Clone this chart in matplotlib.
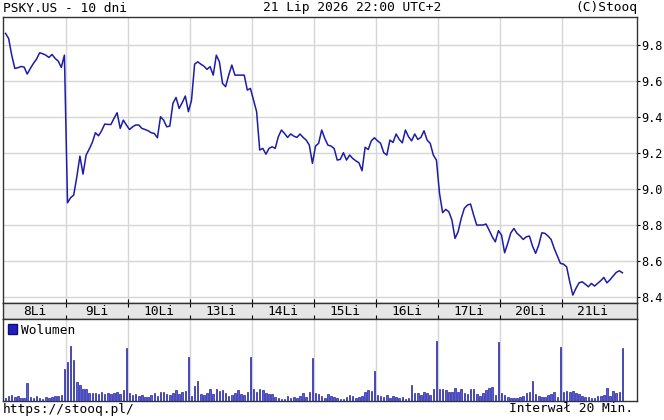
"""Intraday 10-day price chart in the stooq style: price line, date band, volume bars."""

import matplotlib

matplotlib.use("Agg")
import matplotlib.pyplot as plt
import numpy as np
from matplotlib.patches import Patch
from matplotlib.transforms import blended_transform_factory

plt.rcParams["font.family"] = ["DejaVu Sans Mono"]
plt.rcParams["font.size"] = 9.3

# 20-minute bars, 20 per session.
DAY_LABELS = ["8Li", "9Li", "10Li", "13Li", "14Li", "15Li", "16Li", "17Li", "20Li", "21Li"]

price_days = [
    [9.865, 9.837, 9.744, 9.670, 9.674, 9.681, 9.678, 9.639, 9.670, 9.698,
     9.722, 9.757, 9.752, 9.744, 9.731, 9.748, 9.726, 9.711, 9.676, 9.744],
    [8.924, 8.952, 8.967, 9.068, 9.183, 9.083, 9.189, 9.222, 9.259, 9.313,
     9.296, 9.324, 9.361, 9.359, 9.359, 9.393, 9.424, 9.337, 9.383, 9.356],
    [9.331, 9.346, 9.356, 9.356, 9.337, 9.331, 9.324, 9.313, 9.309, 9.285,
     9.402, 9.383, 9.346, 9.350, 9.476, 9.509, 9.448, 9.480, 9.517, 9.430],
    [9.494, 9.694, 9.707, 9.694, 9.683, 9.665, 9.680, 9.633, 9.744, 9.707,
     9.587, 9.569, 9.633, 9.689, 9.633, 9.633, 9.633, 9.633, 9.550, 9.559],
    [9.494, 9.430, 9.217, 9.226, 9.194, 9.226, 9.235, 9.226, 9.291, 9.328,
     9.309, 9.287, 9.306, 9.294, 9.287, 9.306, 9.287, 9.272, 9.244, 9.143],
    [9.239, 9.254, 9.328, 9.281, 9.244, 9.239, 9.226, 9.161, 9.165, 9.202,
     9.161, 9.189, 9.170, 9.157, 9.146, 9.102, 9.232, 9.220, 9.268, 9.285],
    [9.268, 9.254, 9.202, 9.189, 9.272, 9.259, 9.306, 9.276, 9.257, 9.328,
     9.291, 9.268, 9.306, 9.276, 9.287, 9.324, 9.272, 9.254, 9.189, 9.161],
    [8.976, 8.869, 8.887, 8.874, 8.828, 8.726, 8.763, 8.837, 8.893, 8.911,
     8.917, 8.856, 8.800, 8.800, 8.800, 8.806, 8.772, 8.735, 8.707, 8.769],
    [8.744, 8.646, 8.698, 8.757, 8.781, 8.754, 8.739, 8.720, 8.735, 8.739,
     8.683, 8.643, 8.689, 8.757, 8.754, 8.739, 8.720, 8.670, 8.628, 8.587],
    [8.583, 8.568, 8.485, 8.411, 8.448, 8.479, 8.485, 8.472, 8.457, 8.476,
     8.461, 8.476, 8.491, 8.509, 8.479, 8.496, 8.517, 8.537, 8.546, 8.535],
]

# volume, arbitrary units (relative bar heights)
volume_days = [
    [3, 5, 6, 4, 5, 3, 3, 18, 4, 3, 5, 3, 2, 4, 3, 4, 5, 5, 6, 32],
    [39, 55, 41, 19, 16, 12, 12, 8, 8, 8, 7, 9, 7, 8, 7, 8, 9, 7, 11, 53],
    [8, 6, 7, 5, 6, 4, 4, 6, 8, 5, 9, 9, 7, 6, 8, 11, 7, 9, 10, 44],
    [5, 15, 20, 7, 6, 8, 12, 7, 12, 10, 11, 8, 5, 6, 8, 11, 7, 6, 9, 44],
    [12, 9, 12, 11, 8, 7, 7, 4, 3, 2, 2, 5, 3, 4, 3, 5, 8, 4, 9, 43],
    [8, 7, 5, 3, 7, 5, 4, 3, 2, 2, 4, 6, 5, 3, 4, 5, 9, 11, 10, 30],
    [6, 5, 4, 6, 3, 5, 4, 3, 4, 2, 3, 16, 8, 8, 6, 9, 8, 6, 12, 60],
    [12, 12, 11, 9, 9, 13, 9, 12, 8, 7, 12, 12, 7, 5, 8, 11, 13, 14, 6, 59],
    [8, 6, 4, 3, 3, 3, 4, 5, 8, 9, 20, 7, 5, 4, 4, 6, 7, 9, 4, 54],
    [9, 10, 9, 10, 8, 7, 5, 4, 4, 3, 3, 5, 5, 6, 13, 5, 10, 8, 9, 53],
]

PRICE_TICKS = [8.4, 8.6, 8.8, 9.0, 9.2, 9.4, 9.6, 9.8]

LINE_C = "#1c1ca8"
GRID_C = "#d6d6d6"
EDGE_C = "#333333"

price = np.concatenate(price_days)
volume = np.concatenate(volume_days)
x = np.arange(len(price))
counts = [len(d) for d in price_days]
bounds = np.cumsum(counts)[:-1] - 0.5
starts = np.concatenate([[0], np.cumsum(counts)[:-1]])
centers = starts + (np.array(counts) - 1) / 2
xlim = (-0.65, len(price) + 3.7)

W, H = 664, 420
fig = plt.figure(figsize=(W / 100, H / 100), dpi=100)
left, width = 3.5 / W, 633.5 / W
ax = fig.add_axes([left, 117 / H, width, 286 / H])
band = fig.add_axes([left, 101 / H, width, 16 / H], sharex=ax)
axv = fig.add_axes([left, 19 / H, width, 82 / H], sharex=ax)

# price panel
ax.plot(x, price, color=LINE_C, lw=1.1, zorder=3)
ax.set_xlim(*xlim)
ax.set_ylim(8.367, 9.956)
ax.yaxis.tick_right()
ax.set_yticks(PRICE_TICKS)
ax.set_yticklabels([f"{t:.1f}" for t in PRICE_TICKS])
ax.tick_params(axis="y", length=2, width=0.8, pad=0.8, labelsize=8.6, colors="black")
ax.set_xticks(bounds)
ax.tick_params(axis="x", length=0, labelbottom=False)
ax.grid(color=GRID_C, lw=1)

# date band
band.set_facecolor("#e6e6e6")
band.set_yticks([])
band.tick_params(axis="x", direction="inout", length=6, width=0.8, top=True, bottom=True,
                 labelbottom=False)
tr = blended_transform_factory(band.transData, band.transAxes)
for c, lab in zip(centers, DAY_LABELS):
    band.text(c, 0.45, lab, transform=tr, ha="center", va="center")

# volume panel
axv.bar(x, volume, width=0.5, color="#5c5cd8", edgecolor="#22229e", lw=0.5, zorder=3)
axv.set_ylim(0, 82)
axv.set_yticks([])
axv.tick_params(axis="x", length=0, labelbottom=False)
axv.grid(axis="x", color=GRID_C, lw=1)
axv.legend(handles=[Patch(facecolor="#2020c0", edgecolor="#101070")], labels=["Wolumen"],
           loc="upper left", frameon=False, handlelength=0.7, handleheight=0.7,
           handletextpad=0.3, borderaxespad=0.15, borderpad=0.2)

for a in (ax, band, axv):
    for s in a.spines.values():
        s.set_color(EDGE_C)
        s.set_linewidth(1)

fig.text(3 / W, 1 - 8 / H, "PSKY.US - 10 dni", ha="left", va="center")
fig.text(352 / W, 1 - 8 / H, "21 Lip 2026 22:00 UTC+2", ha="center", va="center")
fig.text(637 / W, 1 - 8 / H, "(C)Stooq", ha="right", va="center")
fig.text(3 / W, 1 - 409 / H, "https://stooq.pl/", ha="left", va="center")
fig.text(633 / W, 1 - 409 / H, "Interwał 20 Min.", ha="right", va="center")

fig.savefig("out.png", dpi=100)
